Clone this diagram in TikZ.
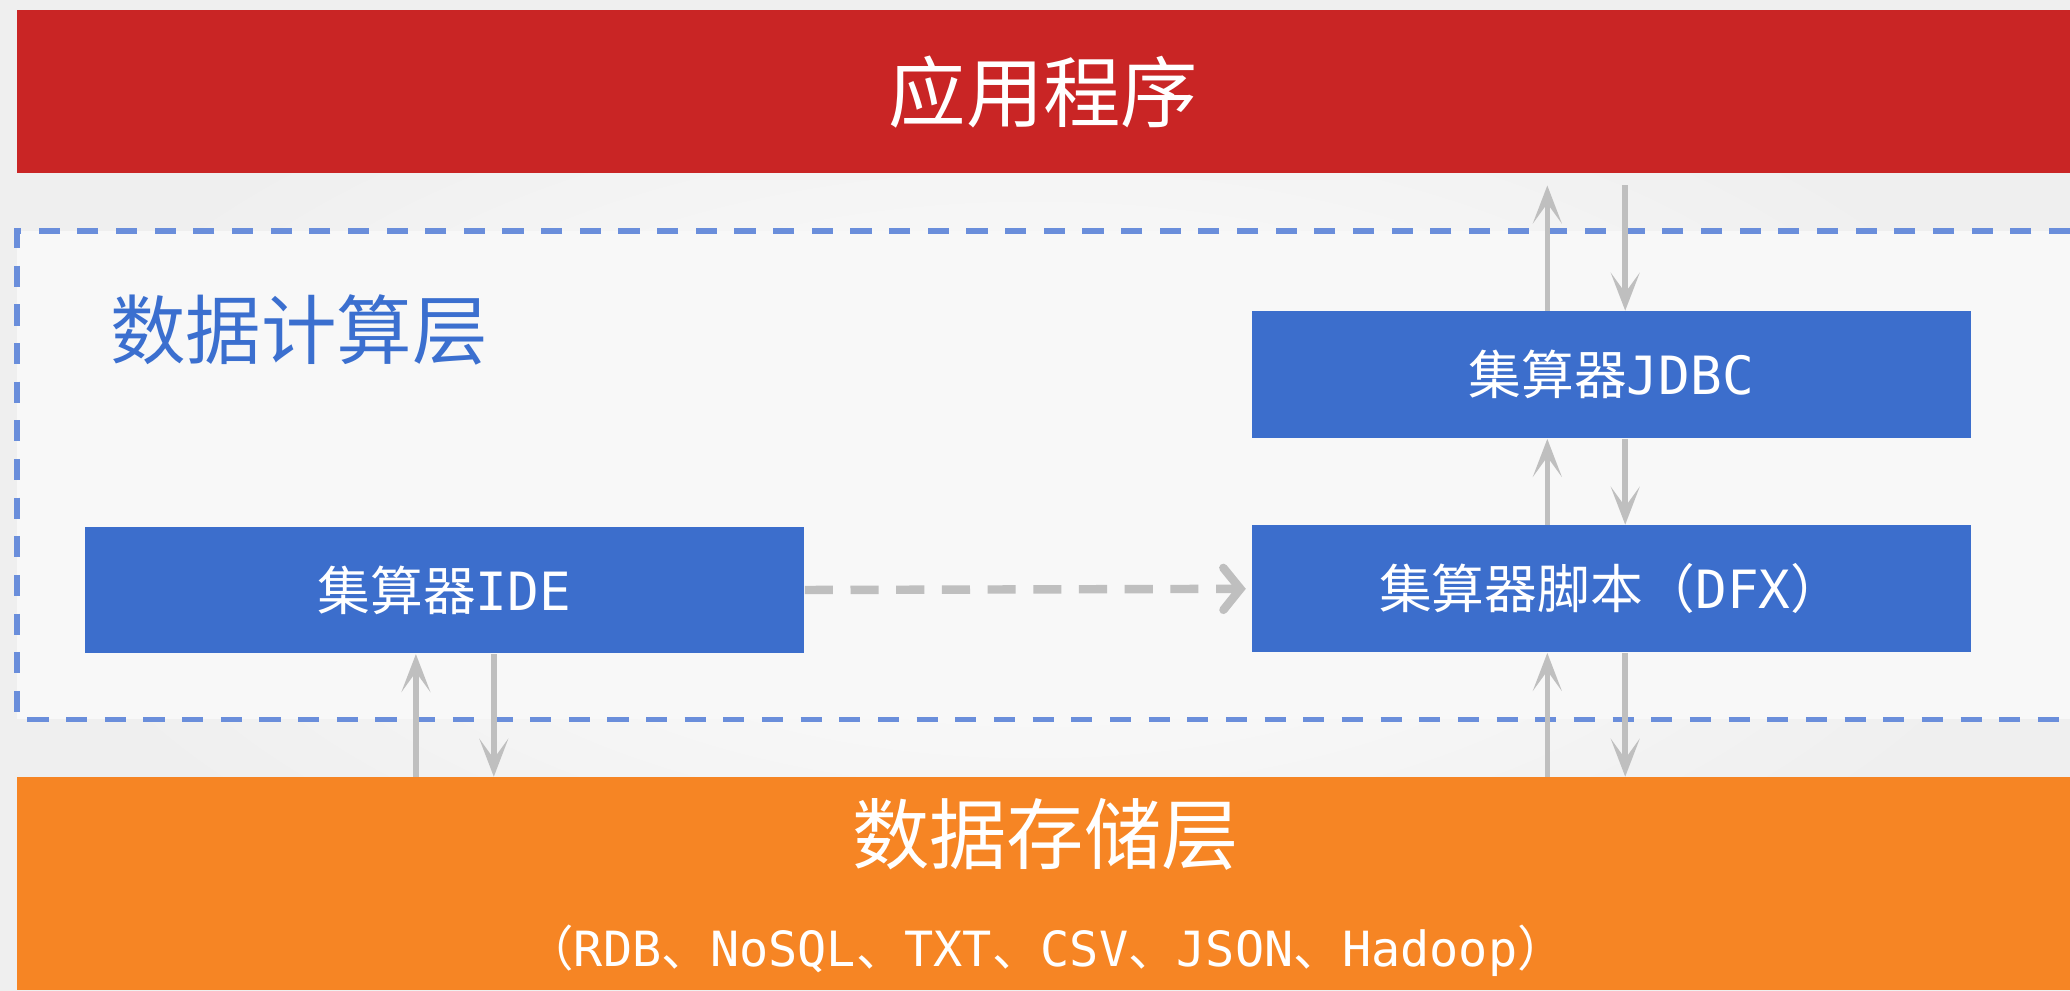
\documentclass[tikz,border=0pt]{standalone}
\usepackage{fontspec}
\setmainfont{Noto Sans CJK SC}
\newfontfamily\latinmono{DejaVu Sans Mono}
\usepackage{tikz}
\usetikzlibrary{arrows.meta,backgrounds,calc,positioning}
\definecolor{appred}{HTML}{C92525}
\definecolor{calcblue}{HTML}{3C6ECC}
\definecolor{titleblue}{HTML}{3B6FCF}
\definecolor{frameblue}{HTML}{6A8EDB}
\definecolor{storeorange}{HTML}{F68524}
\definecolor{arrowgray}{HTML}{BFBFBF}
\definecolor{bgout}{HTML}{EFEFEF}
\definecolor{framefill}{HTML}{F8F8F8}
\newcommand{\mono}[1]{{\latinmono #1}}

\begin{document}
\begin{tikzpicture}[
  band/.style={rectangle, inner sep=0pt, text=white, minimum width=20.528cm, font=\fontsize{22}{26}\selectfont},
  calcbox/.style={rectangle, fill=calcblue, text=white, minimum width=7.196cm, minimum height=1.268cm, inner sep=0pt, font=\fontsize{15}{18}\selectfont},
  flow/.style={draw=arrowgray, line width=1.6pt, -{Stealth[length=3.8mm,width=2.9mm,inset=2mm]}},
  dashflow/.style={draw=arrowgray, line width=2.4pt, dash pattern=on 8pt off 5pt, -{Straight Barb[length=1.7mm,width=4.2mm,line cap=round]}},
  frame/.style={draw=frameblue, line width=1.6pt, dash pattern=on 6pt off 5pt}
]
\useasboundingbox (0,0) rectangle (20.7,9.9);
\shade[inner color=white, outer color=bgout] (0,0) rectangle (20.7,9.9);

\node[band, fill=appred, minimum height=1.624cm] (app) at (10.436,8.984) {应用程序};

% Rechenschicht
\fill[framefill] (0.172,2.706) rectangle (20.7,7.591);
\draw[frame] (20.7,7.591) -- (0.172,7.591) -- (0.172,2.706) -- (20.7,2.706);
\node[anchor=west, inner sep=0pt, text=titleblue, font=\fontsize{21.5}{26}\selectfont] (calctitle) at (1.096,6.601) {数据计算层};
\node[calcbox] (jdbc) at (16.113,6.152) {集算器\mono{JDBC}};
\node[calcbox, below=0.858cm of jdbc] (dfx) {集算器脚本（\mono{DFX}）};
\node[calcbox] (ide) at (4.443,4.000) {集算器\mono{IDE}};

\node[band, fill=storeorange, minimum height=2.126cm] (store) at (10.436,1.063) {};
\node[inner sep=0pt, text=white, font=\fontsize{22}{26}\selectfont] (storename) at (10.456,1.558) {数据存储层};
\node[inner sep=0pt, text=white, font=\fontsize{13.8}{16}\selectfont] (storekinds) at (10.456,0.396) {（\mono{RDB}、\mono{NoSQL}、\mono{TXT}、\mono{CSV}、\mono{JSON}、\mono{Hadoop}）};

\draw[flow, shorten >=0.12cm] ([xshift=-0.64cm]jdbc.north) -- ([xshift=-0.64cm]jdbc.north |- app.south);
\draw[flow, shorten <=0.12cm] ([xshift=0.139cm]jdbc.north |- app.south) -- ([xshift=0.139cm]jdbc.north);
\draw[flow] ([xshift=-0.64cm]dfx.north) -- ([xshift=-0.64cm]jdbc.south);
\draw[flow] ([xshift=0.139cm]jdbc.south) -- ([xshift=0.139cm]dfx.north);
\draw[flow] ([xshift=-0.64cm]dfx.south |- store.north) -- ([xshift=-0.64cm]dfx.south);
\draw[flow] ([xshift=0.139cm]dfx.south) -- ([xshift=0.139cm]dfx.south |- store.north);
\draw[flow] ([xshift=-0.284cm]ide.south |- store.north) -- ([xshift=-0.284cm]ide.south);
\draw[flow] ([xshift=0.495cm]ide.south) -- ([xshift=0.495cm]ide.south |- store.north);
\draw[dashflow, shorten >=0.05cm] (ide.east) -- (dfx.west);
\end{tikzpicture}
\end{document}
